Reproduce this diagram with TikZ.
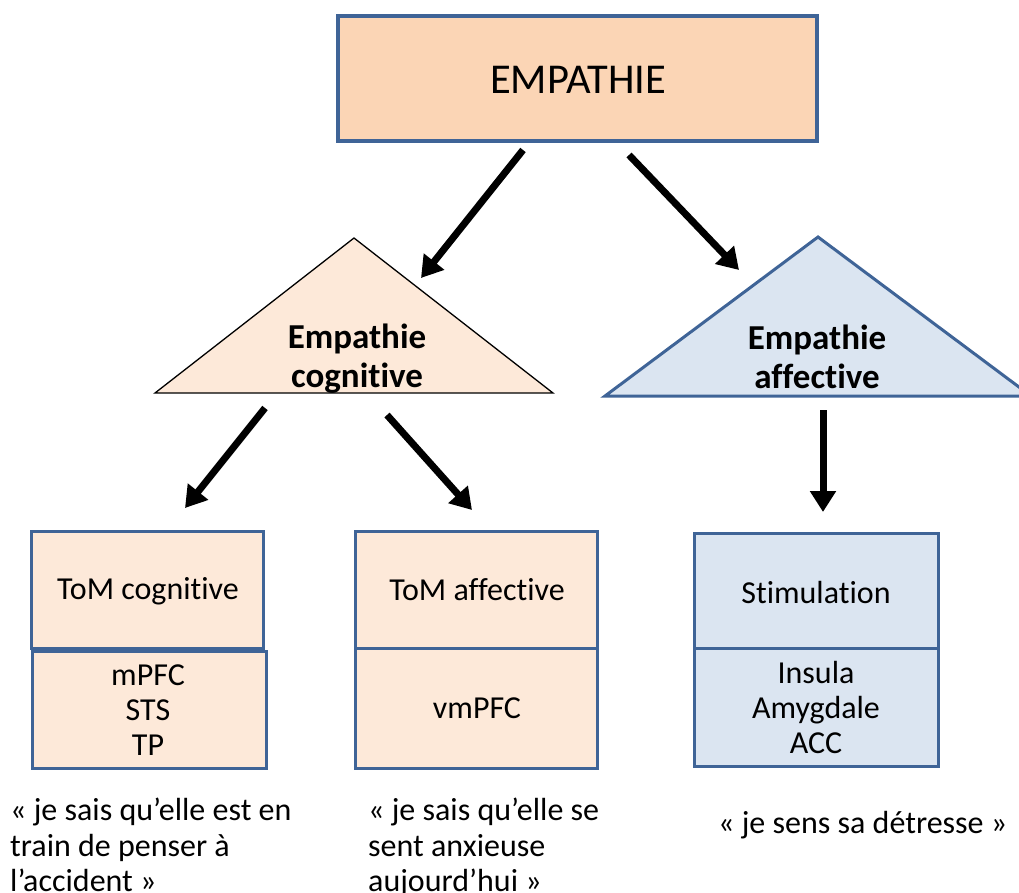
\documentclass[tikz,border=0pt]{standalone}
\usepackage{fontspec}
\setmainfont[Ligatures=NoCommon]{Carlito}
\usetikzlibrary{arrows.meta}
\definecolor{bordblue}{HTML}{3F6497}
\definecolor{peach}{HTML}{FBD5B5}
\definecolor{lpeach}{HTML}{FDE9D9}
\definecolor{lblue}{HTML}{DBE5F1}
\begin{document}
\begin{tikzpicture}[x=1pt,y=-1pt,
  bigarrow/.style={line width=7pt,-{Triangle[width=25pt,length=21pt]}},
  boxtxt/.style={font=\fontsize{32}{35}\selectfont,align=center,inner sep=0pt},
  tritxt/.style={font=\fontsize{35}{39}\selectfont\bfseries,align=center,inner sep=0pt},
  quote/.style={font=\fontsize{32}{35.5}\selectfont,align=left,inner sep=0pt,anchor=north west},
  cell/.style={draw=bordblue,line width=3pt}]
\useasboundingbox (0,0) rectangle (1019,893);
% top box
\draw[draw=bordblue,line width=4.5pt,fill=peach] (338,16) rectangle (817,141);
\node[font=\fontsize{42.5}{50}\selectfont,inner sep=0pt] (emp) at (578,80) {EMPATHIE};
% triangles
\draw[fill=lpeach,draw=black,line width=1.3pt] (155,393) -- (354,238) -- (553,393) -- cycle;
\node[tritxt] (cog) at (357,359) {Empathie\\cognitive};
\draw[fill=lblue,draw=bordblue,line width=3pt] (605,396) -- (818,237) -- (1031,396) -- cycle;
\node[tritxt] (aff) at (817,357) {Empathie\\affective};
% arrows
\coordinate (a1s) at (523,150); \coordinate (a1e) at (421,278);
\coordinate (a2s) at (629,155); \coordinate (a2e) at (739,270);
\coordinate (a3s) at (265,408); \coordinate (a3e) at (185,508);
\coordinate (a4s) at (387,415); \coordinate (a4e) at (472,510);
\coordinate (a5s) at (823,410); \coordinate (a5e) at (823,512);
\draw[bigarrow] (a1s) -- (a1e);
\draw[bigarrow] (a2s) -- (a2e);
\draw[bigarrow] (a3s) -- (a3e);
\draw[bigarrow] (a4s) -- (a4e);
\draw[bigarrow] (a5s) -- (a5e);
% ToM cognitive
\draw[cell,fill=lpeach] (31,531) rectangle (263,648);
\draw[cell,fill=lpeach] (32,651) rectangle (266,768);
\node[boxtxt] (tomc) at (148,591) {ToM cognitive};
\node[boxtxt] (tomcr) at (148,710) {mPFC\\STS\\TP};
% ToM affective
\draw[cell,fill=lpeach] (355,531) rectangle (597,768);
\draw[cell] (355,648) -- (597,648);
\node[boxtxt] (toma) at (477,590) {ToM affective};
\node[boxtxt] (tomar) at (477,708) {vmPFC};
% Stimulation
\draw[cell,fill=lblue] (694,533) rectangle (938,766);
\draw[cell] (694,648) -- (938,648);
\node[boxtxt] (stim) at (816,593) {Stimulation};
\node[boxtxt] (stimr) at (816,707) {Insula\\Amygdale\\ACC};
% quotes
\node[quote] (q1) at (10,798) {« je sais qu’elle est en\\train de penser à\\l’accident »};
\node[quote] (q2) at (368,798) {« je sais qu’elle se\\sent anxieuse\\aujourd’hui »};
\node[quote] (q3) at (718,811) {« je sens sa détresse »};
\end{tikzpicture}
\end{document}
